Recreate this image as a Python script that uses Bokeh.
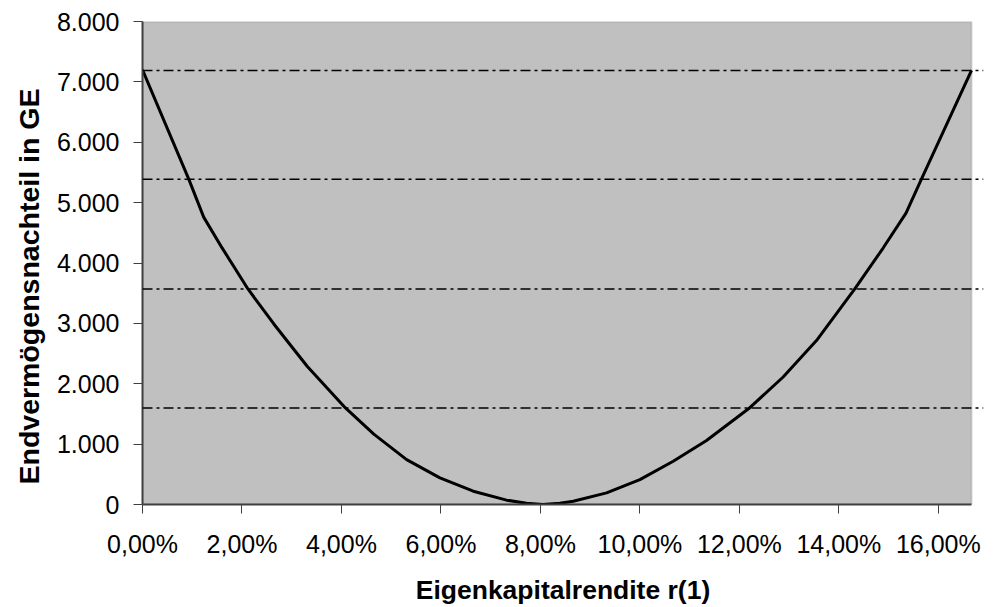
from bokeh.plotting import figure
from bokeh.models import FixedTicker, Span, BoxAnnotation, ColumnDataSource, Range1d, Title
from bokeh.embed import file_html
from bokeh.resources import INLINE

# Data (x in percent)
rendite = [0.0, 0.93, 1.23, 1.60, 2.12, 2.64, 3.31, 4.08, 4.65, 5.31, 5.98, 6.65,
           7.32, 7.72, 8.05, 8.39, 8.66, 9.33, 10.0, 10.67, 11.34, 12.21, 12.88,
           13.55, 14.32, 14.89, 15.35, 15.66, 16.667]
nachteil = [7200, 5390, 4760, 4250, 3570, 2990, 2290, 1600, 1165, 744, 441, 220,
            72, 22, 0, 20, 55, 193, 413, 716, 1060, 1603, 2112, 2715, 3570, 4248,
            4826, 5388, 7190]
level_lines = [7190, 5388, 3570, 1600]

x_max = 16.667
y_max = 8000
x_ticks = [0, 2, 4, 6, 8, 10, 12, 14, 16]
x_labels = ["0,00%", "2,00%", "4,00%", "6,00%", "8,00%", "10,00%", "12,00%", "14,00%", "16,00%"]
y_ticks = [0, 1000, 2000, 3000, 4000, 5000, 6000, 7000, 8000]
y_labels = ["0", "1.000", "2.000", "3.000", "4.000", "5.000", "6.000", "7.000", "8.000"]

FONT = "Liberation Sans"

p = figure(width=994, height=607, output_backend="svg", toolbar_location=None,
           x_range=Range1d(0, 16.908), y_range=Range1d(0, y_max))
p.min_border_left = 142
p.min_border_right = 11
p.min_border_top = 21
p.min_border_bottom = 102
p.background_fill_color = "white"
p.border_fill_color = "white"
p.outline_line_color = None
p.grid.visible = False

# plot area
p.add_layout(BoxAnnotation(left=0, right=x_max, bottom=0, top=y_max,
                           fill_color="#C0C0C0", fill_alpha=1.0,
                           line_color="#808080", line_width=2, level="underlay"))

for ax, ticks, labels in ((p.xaxis[0], x_ticks, x_labels), (p.yaxis[0], y_ticks, y_labels)):
    ax.ticker = FixedTicker(ticks=ticks)
    ax.major_label_overrides = {t: l for t, l in zip(ticks, labels)}
    ax.minor_tick_line_color = None
    ax.major_tick_in = 0
    ax.major_tick_out = 9
    ax.major_tick_line_color = "#404040"
    ax.axis_line_color = "#404040"
    ax.axis_line_width = 2
    ax.major_label_text_font = FONT
    ax.major_label_text_font_size = "25px"
    ax.major_label_text_color = "black"

p.xaxis.bounds = (0, x_max)
p.xaxis.major_label_standoff = 16
p.yaxis.major_label_standoff = 14

p.xaxis.axis_label = "Eigenkapitalrendite r(1)"
p.xaxis.axis_label_text_font = FONT
p.xaxis.axis_label_text_font_size = "26.5px"
p.xaxis.axis_label_text_font_style = "bold"
p.xaxis.axis_label_text_color = "black"
p.xaxis.axis_label_standoff = 14

p.add_layout(Title(text="Endvermögensnachteil in GE", align="left", offset=20,
                   text_font=FONT, text_font_size="28.5px", text_font_style="bold",
                   text_color="black", standoff=18), "left")

for lv in level_lines:
    p.add_layout(Span(location=lv, dimension="width", line_color="black",
                      line_width=1.5, line_dash="10 4 3 4"))

src = ColumnDataSource(dict(x=rendite, y=nachteil))
p.line("x", "y", source=src, line_color="black", line_width=3, line_join="round")

open("out.html", "w").write(file_html(p, INLINE))
